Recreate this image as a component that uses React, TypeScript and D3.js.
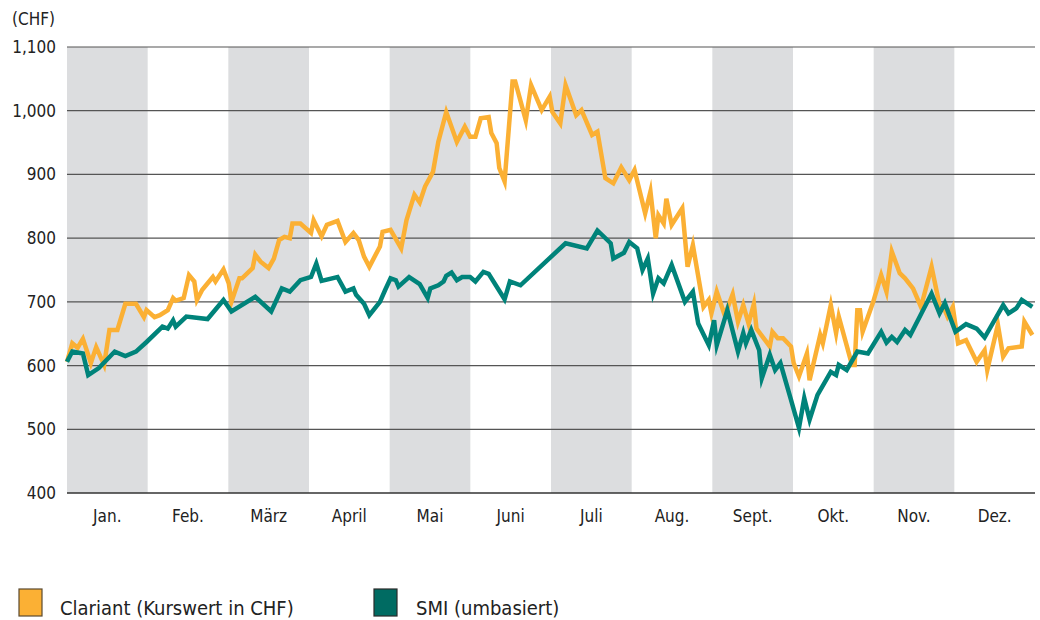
import React from 'react';
import * as d3 from 'd3';

// month labels and y ticks
const months = ['Jan.', 'Feb.', 'März', 'April', 'Mai', 'Juni', 'Juli', 'Aug.', 'Sept.', 'Okt.', 'Nov.', 'Dez.'];
const yTicks = [400, 500, 600, 700, 800, 900, 1000, 1100];

// [day of year, value]
const clariant: [number, number][] = [
  [0, 606], [2, 635], [4, 628], [6, 642], [9, 604], [11, 629], [14, 601], [16, 656], [19, 656],
  [22, 697], [26, 697], [29, 676], [30, 687], [33, 676], [35, 679], [38, 687], [40, 706], [41, 702],
  [44, 706], [46, 742], [48, 732], [49, 703], [51, 719], [55, 739], [56, 732], [59, 751], [61, 729],
  [62, 700], [65, 737], [66, 737], [70, 753], [71, 774], [73, 763], [76, 753], [78, 768], [80, 797],
  [82, 802], [84, 800], [85, 823], [88, 823], [92, 808], [93, 828], [96, 803], [98, 821], [102, 827],
  [105, 794], [108, 808], [110, 797], [112, 771], [114, 755], [118, 787], [119, 810], [122, 813],
  [126, 784], [128, 828], [130, 855], [131, 868], [133, 856], [135, 881], [138, 904], [140, 951],
  [143, 998], [147, 951], [150, 975], [152, 959], [154, 959], [156, 988], [159, 990], [160, 965],
  [162, 949], [163, 910], [165, 889], [168, 1046], [169, 1046], [173, 985], [175, 1040], [179, 1001],
  [182, 1022], [183, 998], [186, 980], [188, 1040], [192, 993], [194, 1001], [198, 962], [200, 967],
  [203, 894], [206, 886], [209, 911], [212, 891], [214, 907], [218, 839], [220, 873], [222, 800],
  [223, 836], [225, 823], [226, 862], [228, 821], [232, 847], [234, 755], [236, 789], [240, 692],
  [242, 703], [243, 682], [245, 716], [248, 679], [251, 712], [253, 669], [255, 695], [257, 666],
  [259, 697], [260, 658], [265, 630], [266, 653], [268, 643], [270, 643], [273, 630], [274, 604],
  [276, 583], [279, 619], [280, 577], [284, 648], [285, 635], [288, 695], [290, 651], [291, 677],
  [296, 601], [297, 601], [298, 687], [299, 687], [300, 653], [304, 700], [307, 742], [309, 716],
  [311, 779], [314, 745], [316, 737], [319, 721], [322, 692], [326, 755], [329, 695], [331, 687],
  [332, 677], [334, 692], [336, 635], [339, 640], [343, 606], [346, 624], [347, 593], [351, 664],
  [353, 614], [355, 627], [360, 630], [361, 669], [364, 648],
];

const smi: [number, number][] = [
  [0, 606], [2, 622], [6, 619], [8, 585], [12, 596], [18, 622], [22, 615], [26, 622], [30, 637],
  [36, 661], [38, 658], [40, 671], [41, 661], [45, 677], [53, 673], [59, 703], [62, 685], [71, 708],
  [77, 685], [81, 721], [84, 716], [88, 734], [92, 739], [94, 760], [96, 733], [102, 739], [105, 716],
  [108, 721], [109, 711], [112, 697], [114, 679], [118, 700], [120, 719], [122, 737], [124, 734],
  [125, 724], [129, 739], [133, 728], [136, 706], [137, 721], [140, 726], [142, 732], [143, 741],
  [145, 746], [147, 734], [149, 739], [152, 739], [154, 732], [157, 747], [159, 744], [165, 704],
  [167, 732], [171, 726], [188, 792], [196, 784], [200, 812], [205, 792], [206, 768], [210, 777],
  [212, 794], [215, 784], [217, 750], [219, 768], [221, 713], [223, 737], [225, 729], [228, 758],
  [233, 700], [236, 716], [238, 666], [242, 632], [244, 671], [245, 632], [249, 687], [253, 622],
  [255, 651], [256, 635], [258, 656], [261, 624], [262, 580], [265, 617], [267, 593], [269, 604],
  [273, 546], [276, 502], [278, 549], [280, 515], [283, 554], [288, 590], [290, 585], [291, 601],
  [294, 593], [298, 622], [302, 619], [307, 653], [309, 636], [311, 645], [313, 637], [316, 656],
  [318, 648], [326, 713], [329, 682], [331, 698], [335, 653], [339, 665], [343, 658], [346, 644],
  [353, 695], [355, 682], [358, 690], [360, 703], [364, 692],
];

const seriesNames = ['Clariant (Kurswert in CHF)', 'SMI (umbasiert)'];

const W = 1040;
const H = 620;
const left = 67;
const right = 1035;
const top = 47;
const bottom = 493;
const font = '"Liberation Sans Narrow", "DejaVu Sans Condensed", "Roboto", sans-serif';

export default function App() {
  const x = d3.scaleLinear().domain([0, 365]).range([left, right]);
  const y = d3.scaleLinear().domain([400, 1100]).range([bottom, top]);
  const band = d3.scaleBand().domain(months).range([left, right]);
  const fmt = d3.format(',');

  const line = d3
    .line<[number, number]>()
    .x(d => x(d[0]))
    .y(d => y(d[1]));

  const orange = '#FBB034';
  const teal = '#00837A';

  return (
    <svg width={W} height={H} style={{ position: 'absolute', left: 0, top: 0, background: '#fff' }} fontFamily={font}>
      {months.map((m, i) =>
        i % 2 === 0 ? (
          <rect key={m} x={band(m)} y={top} width={band.bandwidth()} height={bottom - top} fill="#DCDDDF" />
        ) : null
      )}
      {yTicks.map(t => (
        <g key={t}>
          <line x1={left} x2={right} y1={y(t)} y2={y(t)} stroke={t === 400 ? '#333' : '#555'} strokeWidth={t === 400 ? 1.6 : 1.2} />
          <text x={56} y={y(t) + 6} textAnchor="end" fontSize={17} fill="#222">
            {fmt(t)}
          </text>
        </g>
      ))}
      <text x={12} y={25} fontSize={17} fill="#222">
        (CHF)
      </text>
      {months.map(m => (
        <text key={m} x={(band(m) as number) + band.bandwidth() / 2} y={522} textAnchor="middle" fontSize={17} fill="#222">
          {m}
        </text>
      ))}
      <path d={line(clariant) || ''} fill="none" stroke={orange} strokeWidth={4.5} strokeLinejoin="miter" strokeMiterlimit={6} />
      <path d={line(smi) || ''} fill="none" stroke={teal} strokeWidth={4.5} strokeLinejoin="miter" strokeMiterlimit={6} />

      <rect x={19} y={589} width={23} height={27} fill={orange} stroke="#5a4a30" strokeWidth={1.2} />
      <text x={60} y={615} fontSize={20} fill="#222">
        {seriesNames[0]}
      </text>
      <rect x={374} y={589} width={23} height={27} fill="#006B62" stroke="#2a2a2a" strokeWidth={1.2} />
      <text x={416} y={615} fontSize={20} fill="#222">
        {seriesNames[1]}
      </text>
    </svg>
  );
}
